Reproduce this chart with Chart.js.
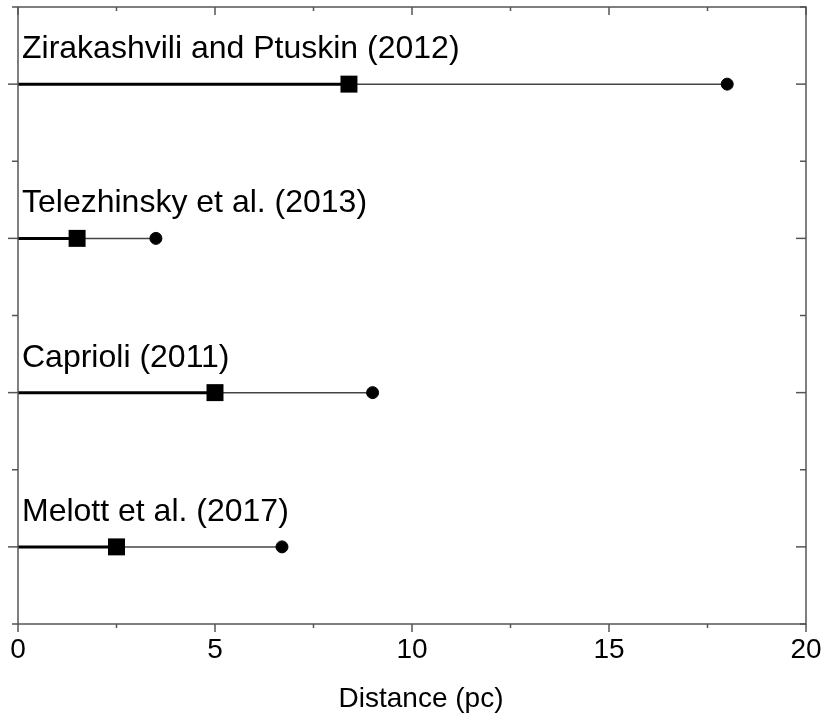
<!DOCTYPE html>
<html>
<head>
<meta charset="utf-8">
<script src="https://cdn.jsdelivr.net/npm/chart.js@4/dist/chart.umd.min.js"></script>
<style>
  body { margin: 0; background: #fff; }
  #wrap { width: 827px; height: 719px; position: relative; }
</style>
</head>
<body>
<div id="wrap"><canvas id="distChart"></canvas></div>
<script>
// 1. DATA
const studies = ['Zirakashvili and Ptuskin (2012)', 'Telezhinsky et al. (2013)', 'Caprioli (2011)', 'Melott et al. (2017)'];
const rows = [4, 3, 2, 1];
const squareDist = [8.4, 1.5, 5.0, 2.5];
const circleDist = [18.0, 3.5, 9.0, 6.7];
const xTicks = [0, 5, 10, 15, 20];
const xMinor = [2.5, 7.5, 12.5, 17.5];
const yMinor = [0.5, 1.5, 2.5, 3.5, 4.5];
const xTitle = 'Distance (pc)';

const FONT = '"Liberation Sans", Arial, sans-serif';
const AXIS_COL = '#555';

// 2. DATASETS
const datasets = [];
datasets.push({
    label: 'start', order: 0,
    data: rows.map((r, i) => ({ x: squareDist[i], y: r })),
    showLine: false, pointStyle: 'rect', pointRadius: 12,
    backgroundColor: '#000', borderColor: '#000', borderWidth: 0
});
datasets.push({
    label: 'end', order: 0,
    data: rows.map((r, i) => ({ x: circleDist[i], y: r })),
    showLine: false, pointStyle: 'circle', pointRadius: 6,
    backgroundColor: '#000', borderColor: '#000', borderWidth: 1
});
rows.forEach((r, i) => {
    // thick part: 0 -> square
    datasets.push({
        label: 'thick' + i, order: 1,
        data: [{ x: 0, y: r }, { x: squareDist[i], y: r }],
        showLine: true, borderColor: '#000', borderWidth: 3, pointRadius: 0
    });
    // thin part: square -> circle
    datasets.push({
        label: 'thin' + i, order: 1,
        data: [{ x: squareDist[i], y: r }, { x: circleDist[i], y: r }],
        showLine: true, borderColor: '#444', borderWidth: 1.5, pointRadius: 0
    });
});

// 3. FRAME, TICKS & TEXT
const framePlugin = {
    id: 'frame',
    afterDraw(chart) {
        const ctx = chart.ctx;
        const xs = chart.scales.x, ys = chart.scales.y;
        const a = chart.chartArea;
        ctx.save();
        ctx.strokeStyle = AXIS_COL;
        ctx.lineWidth = 1.5;
        ctx.strokeRect(a.left, a.top, a.right - a.left, a.bottom - a.top);

        const line = (x1, y1, x2, y2) => { ctx.beginPath(); ctx.moveTo(x1, y1); ctx.lineTo(x2, y2); ctx.stroke(); };

        xTicks.forEach(v => {
            const px = xs.getPixelForValue(v);
            line(px, a.bottom, px, a.bottom + 8);
            line(px, a.top, px, a.top + 8);
        });
        xMinor.forEach(v => {
            const px = xs.getPixelForValue(v);
            line(px, a.bottom, px, a.bottom + 4);
            line(px, a.top, px, a.top + 4);
        });
        rows.forEach(v => {
            const py = ys.getPixelForValue(v);
            line(a.left - 10, py, a.left, py);
            line(a.right - 10, py, a.right, py);
        });
        yMinor.forEach(v => {
            const py = ys.getPixelForValue(v);
            line(a.left - 6, py, a.left, py);
            line(a.right - 6, py, a.right, py);
        });

        // tick labels
        ctx.fillStyle = '#000';
        ctx.font = '28px ' + FONT;
        ctx.textAlign = 'center';
        ctx.textBaseline = 'alphabetic';
        xTicks.forEach(v => ctx.fillText(String(v), xs.getPixelForValue(v), a.bottom + 34));

        // axis title
        ctx.fillText(xTitle, (a.left + a.right) / 2 + 9, a.bottom + 83);

        // study labels
        ctx.font = '32px ' + FONT;
        ctx.textAlign = 'left';
        studies.forEach((s, i) => {
            ctx.fillText(s, xs.getPixelForValue(0) + 4, ys.getPixelForValue(rows[i]) - 26);
        });
        ctx.restore();
    }
};

const ctx = document.getElementById('distChart').getContext('2d');
new Chart(ctx, {
    type: 'scatter',
    data: { datasets },
    options: {
        responsive: true,
        maintainAspectRatio: false,
        animation: false,
        layout: { autoPadding: false, padding: { left: 18, top: 7, right: 21, bottom: 95 } },
        plugins: { legend: { display: false }, tooltip: { enabled: false } },
        scales: {
            x: { type: 'linear', min: 0, max: 20, display: false },
            y: { type: 'linear', min: 0.5, max: 4.5, display: false }
        }
    },
    plugins: [framePlugin]
});
</script>
</body>
</html>
